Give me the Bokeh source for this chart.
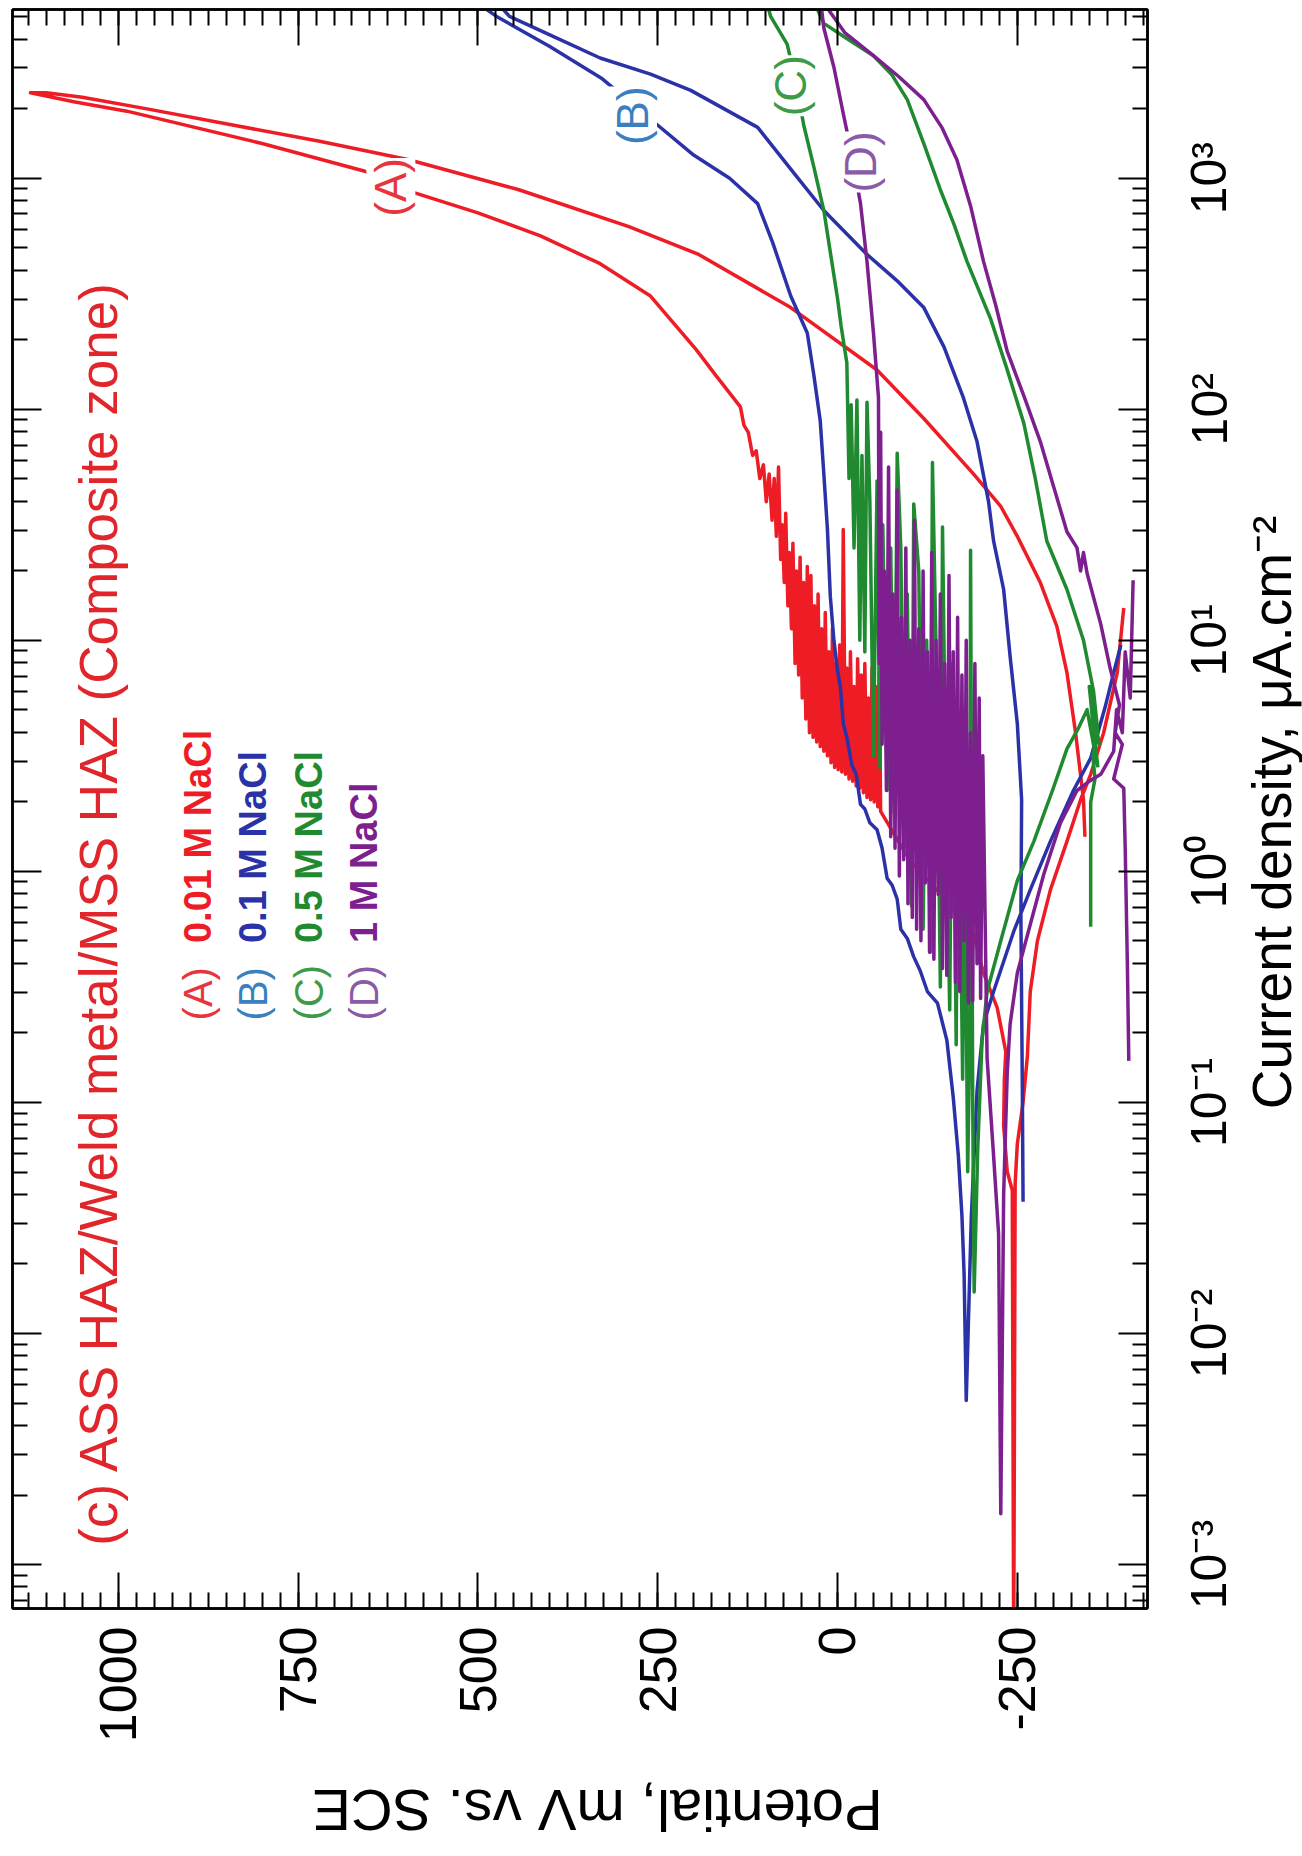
import math
from bokeh.plotting import figure
from bokeh.layouts import row, column
from bokeh.models import Range1d, LinearAxis, LogAxis, SingleIntervalTicker, FixedTicker, Label
from bokeh.embed import file_html
from bokeh.resources import INLINE

# Data: (potential mV vs SCE, log10 current density in uA/cm2), in scan order
# ---- (A) 0.01 M NaCl ----
a_forward = [
    (-398, 1.14), (-389, 0.86), (-370, 0.60), (-352, 0.42), (-338, 0.31), (-319, 0.13),
    (-296, -0.08), (-278, -0.30), (-268, -0.52), (-264, -0.80), (-258, -1.00), (-250, -1.18),
    (-247, -1.35), (-245, -3.40), (-243, -1.38), (-236, -1.30), (-231, -1.10), (-232, -0.90),
    (-234, -0.78), (-222, -0.59), (-203, -0.44), (-189, -0.27), (-150, -0.12), (-100, 0.05),
    (-60, 0.26), (-58, 0.86), (-56, 0.28), (-53, 0.80), (-51, 0.30), (-48, 0.88), (-46, 0.31),
    (-43, 0.75), (-41, 0.32), (-38, 0.90), (-36, 0.34), (-33, 0.85), (-31, 0.36), (-28, 0.92),
    (-26, 0.37), (-23, 0.80), (-21, 0.39), (-18, 0.95), (-16, 0.40), (-13, 0.88), (-11, 0.42),
    (-8, 1.48), (-6, 0.43), (-3, 0.98), (-1, 0.44), (2, 0.90), (4, 0.45), (7, 1.05), (9, 0.47),
    (12, 0.95), (14, 0.50), (17, 1.12), (19, 0.52), (22, 1.05), (24, 0.54), (27, 1.20),
    (29, 0.56), (32, 1.15), (34, 0.58), (37, 1.28), (39, 0.60), (42, 1.32), (44, 0.66),
    (47, 1.25), (49, 0.75), (52, 1.36), (54, 0.85), (57, 1.30), (59, 0.90), (62, 1.42),
    (64, 1.05), (67, 1.38), (69, 1.15), (72, 1.55), (74, 1.25), (77, 1.50), (79, 1.35),
    (82, 1.75), (85, 1.45), (88, 1.70), (91, 1.52), (95, 1.72), (99, 1.60), (103, 1.76),
    (108, 1.70), (113, 1.82), (118, 1.80), (124, 1.90), (130, 1.93), (135, 2.01), (145, 2.05),
    (170, 2.15), (197, 2.26), (230, 2.38), (260, 2.49), (330, 2.63), (413, 2.75), (500, 2.85),
    (591, 2.94), (657, 3.03), (800, 3.15), (988, 3.29), (1060, 3.33), (1122, 3.37),
]
a_reverse = [
    (1100, 3.37), (1050, 3.35), (960, 3.30), (841, 3.23), (720, 3.16), (596, 3.08), (443, 2.95),
    (290, 2.79), (193, 2.67), (65, 2.44), (-55, 2.17), (-120, 1.96), (-189, 1.72), (-227, 1.58),
    (-250, 1.45), (-282, 1.25), (-305, 1.06), (-319, 0.86), (-331, 0.60), (-342, 0.31), (-344, 0.15),
]
# ---- (B) 0.1 M NaCl ----
b_forward = [
    (-394, 0.98), (-384, 0.86), (-372, 0.71), (-352, 0.49), (-328, 0.35), (-296, 0.13),
    (-268, -0.08), (-245, -0.26), (-217, -0.52), (-203, -0.66), (-194, -0.95), (-186, -1.50),
    (-179, -2.29), (-176, -1.74), (-173, -1.49), (-168, -1.23), (-161, -0.98), (-152, -0.73),
    (-139, -0.57), (-125, -0.52), (-115, -0.43), (-106, -0.37), (-97, -0.29), (-88, -0.25),
    (-83, -0.12), (-76, -0.06), (-69, -0.03), (-62, 0.10), (-55, 0.18), (-45, 0.21), (-38, 0.27),
    (-32, 0.29), (-26, 0.42), (-20, 0.46), (-13, 0.58), (-8, 0.64), (-4, 0.80), (0, 0.87),
    (5, 1.00), (10, 1.19), (14, 1.48), (19, 1.72), (24, 1.95), (33, 2.15), (42, 2.33), (65, 2.49),
    (90, 2.72), (111, 2.89), (150, 3.00), (200, 3.10), (254, 3.24), (327, 3.43), (400, 3.57),
    (474, 3.70), (520, 3.80), (540, 3.90),
]
b_reverse = [
    (500, 3.85), (456, 3.70), (400, 3.62), (330, 3.52), (260, 3.45), (204, 3.38), (111, 3.22),
    (60, 3.02), (19, 2.86), (-41, 2.67), (-85, 2.55), (-120, 2.44), (-148, 2.27), (-175, 2.05),
    (-194, 1.86), (-210, 1.60), (-217, 1.43), (-231, 1.22), (-240, 0.93), (-250, 0.64),
    (-256, 0.31), (-255, -0.20), (-257, -0.95), (-258, -1.43),
]
# ---- (C) 0.5 M NaCl ----
c_forward = [
    (-362, 0.45), (-350, 0.80), (-364, 0.55), (-352, 0.74), (-360, 0.48), (-347, 0.70),
    (-335, 0.62), (-319, 0.53), (-300, 0.36), (-273, 0.13), (-250, -0.04), (-227, -0.30),
    (-208, -0.52), (-201, -0.73), (-195, -1.20), (-190, -1.82), (-188, -1.00), (-185, 1.39),
    (-184, -0.70), (-181, -1.30), (-177, 0.20), (-174, -0.90), (-168, 0.60), (-165, -0.75),
    (-160, 0.90), (-156, -0.60), (-150, 0.50), (-146, 1.49), (-143, -0.50), (-138, 0.80),
    (-132, 1.77), (-129, -0.35), (-124, 1.00), (-119, -0.25), (-113, 1.30), (-106, 1.59),
    (-103, -0.15), (-97, 1.20), (-93, 0.10), (-88, 1.40), (-83, 1.81), (-79, 0.25), (-74, 1.40),
    (-69, 0.35), (-63, 1.50), (-59, 0.45), (-55, 1.69), (-50, 0.50), (-45, 1.60), (-41, 2.03),
    (-38, 0.95), (-34, 1.80), (-31, 1.00), (-27, 2.04), (-23, 1.40), (-19, 2.02), (-16, 1.70),
    (-13, 2.20), (-5, 2.36), (0, 2.48), (10, 2.68), (19, 2.86), (33, 3.05), (47, 3.23),
    (58, 3.42), (70, 3.58), (93, 3.70), (110, 3.90),
]
c_reverse = [
    (60, 3.95), (19, 3.67), (-15, 3.60), (-50, 3.53), (-75, 3.45), (-97, 3.34), (-120, 3.15),
    (-143, 2.95), (-162, 2.80), (-180, 2.64), (-213, 2.39), (-235, 2.18), (-259, 1.94),
    (-275, 1.70), (-291, 1.43), (-319, 1.22), (-342, 1.00), (-356, 0.78), (-362, 0.60),
    (-355, 0.50), (-358, 0.40), (-352, 0.30), (-352, -0.24),
]
# ---- (D) 1 M NaCl ----
d_forward = [
    (-411, 1.26), (-407, 0.75), (-400, 0.95), (-396, 0.60), (-388, 0.70), (-384, 0.52),
    (-366, 0.42), (-350, 0.39), (-333, 0.35), (-310, 0.21), (-287, -0.01), (-268, -0.23),
    (-250, -0.44), (-240, -0.66), (-236, -0.87), (-231, -1.40), (-227, -2.78), (-224, -1.57),
    (-217, -1.23), (-208, -0.81), (-202, 0.50), (-199, -0.55), (-197, 0.75), (-194, -0.40),
    (-191, 0.90), (-188, -0.56), (-185, 0.60), (-182, -0.57), (-179, 1.00), (-176, -0.30),
    (-173, 0.85), (-170, -0.52), (-167, 1.10), (-164, -0.48), (-161, 0.95), (-158, -0.20),
    (-155, 1.28), (-152, -0.45), (-149, 0.90), (-146, -0.42), (-143, 1.20), (-140, -0.10),
    (-137, 1.00), (-134, -0.38), (-131, 1.38), (-128, -0.35), (-125, 0.95), (-122, -0.05),
    (-119, 1.30), (-116, -0.30), (-113, 1.05), (-110, -0.25), (-107, 1.52), (-104, -0.20),
    (-101, 1.00), (-98, -0.14), (-95, 1.40), (-92, 0.05), (-89, 1.10), (-86, -0.02),
    (-83, 1.65), (-80, 0.10), (-77, 1.20), (-74, 0.15), (-71, 1.75), (-68, 0.35), (-65, 1.30),
    (-62, 0.55), (-60, 1.90), (-58, 0.90), (-57, 2.05), (-50, 2.33), (-41, 2.64), (-32, 2.89),
    (-20, 3.10), (-8, 3.28), (5, 3.48), (19, 3.65), (24, 3.78),
]
d_reverse = [
    (15, 3.74), (-10, 3.63), (-50, 3.53), (-85, 3.44), (-120, 3.34), (-145, 3.22), (-166, 3.08),
    (-185, 2.88), (-203, 2.64), (-220, 2.45), (-236, 2.25), (-260, 2.05), (-282, 1.86),
    (-300, 1.67), (-319, 1.47), (-333, 1.40), (-338, 1.30), (-342, 1.38), (-347, 1.29),
    (-366, 1.07), (-379, 0.88), (-392, 0.72), (-386, 0.60), (-396, 0.55), (-384, 0.40),
    (-398, 0.36), (-400, 0.10), (-403, -0.40), (-405, -0.82),
]

curve_names = ["(A)", "(B)", "(C)", "(D)"]
legend_texts = ["0.01 M NaCl", "0.1 M NaCl", "0.5 M NaCl", "1 M NaCl"]
curve_colors = ["#ee1c25", "#2b32a8", "#1f8a30", "#7d1f8e"]
tag_colors = ["#e8343c", "#3a80c0", "#3c9a48", "#8a5aa8"]
potential_ticks_step = 250
current_ticks = [1e-3, 1e-2, 1e-1, 1e0, 1e1, 1e2, 1e3]
current_tick_labels = ["10\u207b\u00b3", "10\u207b\u00b2", "10\u207b\u00b9", "10\u2070",
                       "10\u00b9", "10\u00b2", "10\u00b3"]
x_title = "Potential, mV vs. SCE"
y_title = "Current density, \u03bcA.cm\u207b\u00b2"
panel_title = "(c) ASS HAZ/Weld metal/MSS HAZ (Composite zone)"

FONT = "Liberation Sans"

MAIN_W, MAIN_H = 1150, 1762
FRAME_RIGHT, FRAME_BOTTOM = 1147, 1608
p = figure(width=MAIN_W, height=MAIN_H,
           x_range=Range1d(1147, -431),
           y_range=Range1d(10 ** -3.19, 10 ** 3.73),
           y_axis_type="log", y_axis_location="right",
           output_backend="svg", toolbar_location=None,
           min_border_left=12, min_border_top=9,
           min_border_right=MAIN_W - FRAME_RIGHT, min_border_bottom=MAIN_H - FRAME_BOTTOM)
p.xgrid.visible = False
p.ygrid.visible = False
p.outline_line_color = "black"
p.outline_line_width = 2.5
p.background_fill_color = "white"
p.border_fill_color = "white"

for fwd, rev, col in zip([a_forward, b_forward, c_forward, d_forward],
                         [a_reverse, b_reverse, c_reverse, d_reverse], curve_colors):
    pts = fwd + rev
    xs = [v[0] for v in pts]
    ys = [10 ** v[1] for v in pts]
    p.line(xs, ys, line_color=col, line_width=3.5, line_join="round")

# axes (ticks pointing inward on all four sides)
bottom = p.xaxis[0]
right = p.yaxis[0]
top = LinearAxis()
left = LogAxis()
p.add_layout(top, "above")
p.add_layout(left, "left")

minor_current = [m * 10.0 ** e for e in range(-4, 4) for m in range(2, 10)]
for ax in (bottom, top):
    ax.ticker = SingleIntervalTicker(interval=potential_ticks_step, num_minor_ticks=10)
    ax.major_tick_in = 36
    ax.major_tick_out = 0
    ax.minor_tick_in = 16
    ax.minor_tick_out = 0
for ax in (right, left):
    ax.ticker = FixedTicker(ticks=current_ticks, minor_ticks=minor_current)
    ax.major_tick_in = 29
    ax.major_tick_out = 0
    ax.minor_tick_in = 15
    ax.minor_tick_out = 0
for ax in (bottom, top, right, left):
    ax.axis_line_width = 2.5
    ax.axis_line_color = "black"
    ax.major_tick_line_width = 2
    ax.minor_tick_line_width = 2
    ax.major_tick_line_color = "black"
    ax.minor_tick_line_color = "black"
    ax.major_label_text_font = FONT
    ax.major_label_text_color = "black"

for ax in (top, left, right):
    ax.major_label_text_font_size = "1px"
    ax.major_label_text_alpha = 0
    ax.major_label_standoff = 0

bottom.major_label_orientation = math.pi / 2
bottom.major_label_text_font_size = "52px"
bottom.major_label_standoff = 18
bottom.major_label_overrides = {-250: "-250"}

# panel title
p.add_layout(Label(x=1028, y=10 ** -2.918, text=panel_title,
                   angle=math.pi / 2, text_font=FONT, text_font_size="53px",
                   text_align="left", text_baseline="middle", text_color="#e0262b"))
# legend
legend_cols_mv = [889, 813, 735, 659]
for name, txt, col, tcol, xmv in zip(curve_names, legend_texts, curve_colors, tag_colors, legend_cols_mv):
    p.add_layout(Label(x=xmv, y=10 ** -0.645, text=name, angle=math.pi / 2, text_font=FONT,
                       text_font_size="40px", text_align="left", text_baseline="middle",
                       text_color=tcol))
    p.add_layout(Label(x=xmv, y=10 ** -0.31, text=txt, angle=math.pi / 2, text_font=FONT,
                       text_font_size="38px", text_font_style="bold", text_align="left",
                       text_baseline="middle", text_color=col))
# curve tags
tag_pos = [(621, 2.96), (285, 3.27), (65, 3.40), (-32, 3.07)]
for name, tcol, (xmv, ly) in zip(curve_names, tag_colors, tag_pos):
    p.add_layout(Label(x=xmv, y=10 ** ly, text=name, angle=math.pi / 2, text_font=FONT,
                       text_font_size="44px", text_align="center", text_baseline="middle",
                       text_color=tcol, background_fill_color="white", background_fill_alpha=1.0))

# right strip: current-density tick labels (shared log scale) and axis title
RIGHT_W = 1302 - MAIN_W
LABEL_AXIS_X = 1240
rp = figure(width=RIGHT_W, height=MAIN_H, x_range=Range1d(0, 1), y_range=p.y_range,
            y_axis_type="log", x_axis_type=None, y_axis_location="left",
            toolbar_location=None, output_backend="svg",
            min_border_left=LABEL_AXIS_X - MAIN_W, min_border_right=0,
            min_border_top=9, min_border_bottom=MAIN_H - FRAME_BOTTOM)
rp.outline_line_color = None
rp.background_fill_color = "white"
rp.border_fill_color = "white"
rp.ygrid.visible = False
rp.title.visible = False
lab_ax = rp.yaxis[0]
lab_ax.ticker = FixedTicker(ticks=current_ticks, minor_ticks=[])
lab_ax.major_label_overrides = dict(zip(current_ticks, current_tick_labels))
lab_ax.axis_line_color = None
lab_ax.major_tick_line_color = None
lab_ax.minor_tick_line_color = None
lab_ax.major_tick_in = 0
lab_ax.major_tick_out = 0
lab_ax.minor_tick_in = 0
lab_ax.minor_tick_out = 0
lab_ax.major_label_orientation = "parallel"
lab_ax.major_label_text_font = FONT
lab_ax.major_label_text_font_size = "50px"
lab_ax.major_label_text_color = "black"
lab_ax.major_label_standoff = 3
rp.add_layout(Label(x=0.5, y=10 ** 0.255, text=y_title, angle=math.pi / 2,
                    text_font=FONT, text_font_size="55px", text_align="center",
                    text_baseline="middle", text_color="black"))

# bottom strip: potential axis title (upside down, as in the figure)
bp = figure(width=1302, height=1856 - MAIN_H, x_range=Range1d(0, 1), y_range=Range1d(0, 1),
            x_axis_type=None, y_axis_type=None, toolbar_location=None,
            output_backend="svg", min_border=0)
bp.outline_line_color = None
bp.background_fill_color = "white"
bp.border_fill_color = "white"
bp.add_layout(Label(x=0.4585, y=0.49, text=x_title, angle=math.pi,
                    text_font=FONT, text_font_size="58px", text_align="center",
                    text_baseline="middle", text_color="black"))

layout = column(row(p, rp), bp)
open("out.html", "w").write(file_html(layout, INLINE))
